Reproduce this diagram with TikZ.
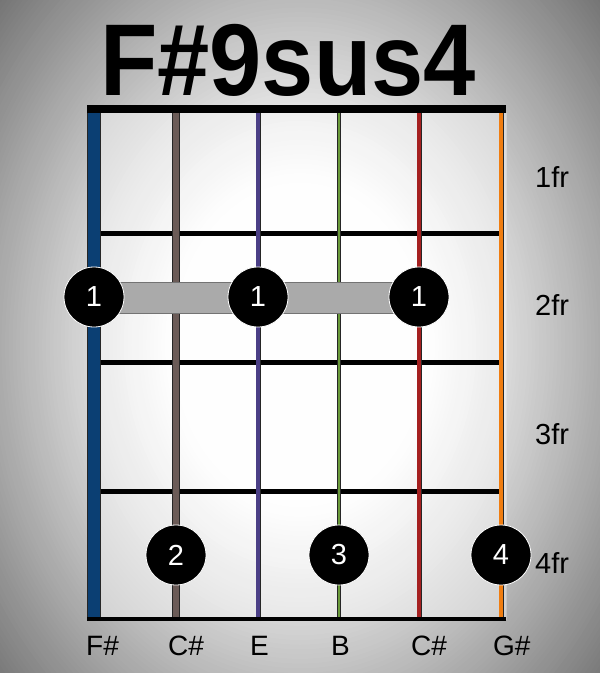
\documentclass[tikz,border=0pt]{standalone}
\usepackage{fontspec}
\setmainfont{Liberation Sans}
\definecolor{sBlue}{HTML}{0B3F73}
\definecolor{sBrown}{HTML}{6B5B57}
\definecolor{sPurple}{HTML}{4B3F86}
\definecolor{sGreen}{HTML}{6A9A3A}
\definecolor{sRed}{HTML}{A52020}
\definecolor{sOrange}{HTML}{F07D10}
\definecolor{barreGray}{HTML}{AAAAAA}
\begin{document}
\begin{tikzpicture}[x=1pt,y=-1pt,
  fretline/.style={line width=5pt, black},
  finger/.style={circle, fill=black, draw=white, line width=0.8pt, minimum size=60pt, inner sep=0pt, text=white, font=\fontsize{29}{29}\selectfont},
  frlabel/.style={anchor=base west, inner sep=0pt, font=\fontsize{29}{29}\selectfont},
  notelabel/.style={anchor=base west, inner sep=0pt, font=\fontsize{28}{28}\selectfont},
  titlestyle/.style={anchor=base, inner sep=0pt, font=\fontsize{102}{102}\selectfont\bfseries, xscale=0.92}]
\useasboundingbox (0,0) rectangle (600,673);
% vignette background
\begin{scope}
  \clip (0,0) rectangle (600,673);
  \fill[black!55] (0,0) rectangle (600,673);
  \foreach \i in {0,...,90}{
    \pgfmathsetmacro\t{1.05-\i*(0.76/90)}
    \pgfmathsetmacro\g{max(0.45,1-0.88*(\t-0.28)^1.1)}
    \pgfmathsetmacro\rx{440*\t}
    \pgfmathsetmacro\ry{560*\t}
    \definecolor{vtmp}{gray}{\g}
    \fill[vtmp] (300,345) ellipse [x radius=\rx pt, y radius=\ry pt];
  }
\end{scope}
% fretboard
\begin{scope}
  \clip (87,113) rectangle (506,619);
  \fill[black!20] (87,113) rectangle (506,619);
  \foreach \i in {0,...,60}{
    \pgfmathsetmacro\t{0.8-\i*(0.51/60)}
    \pgfmathsetmacro\g{1-0.5*(\t-0.28)^1.1}
    \pgfmathsetmacro\rx{440*\t}
    \pgfmathsetmacro\ry{560*\t}
    \definecolor{vtmp}{gray}{\g}
    \fill[vtmp] (300,345) ellipse [x radius=\rx pt, y radius=\ry pt];
  }
\end{scope}
% title
\node[titlestyle] (title) at (288,95) {F\#9sus4};
% frets
\foreach \y [count=\i] in {233.5,362,491}{
  \coordinate (fl\i) at (101,\y);
  \coordinate (fr\i) at (500,\y);
  \draw[fretline] (fl\i) -- (fr\i);
}
% strings
\foreach \x/\c/\w [count=\i] in {94/sBlue/14,176/sBrown/8,258/sPurple/5,339/sGreen/4.5,419/sRed/5,501/sOrange/5}{
  \coordinate (st\i) at (\x,113);
  \coordinate (sb\i) at (\x,617);
  \draw[line width=\w pt, black!85] (st\i) -- (sb\i);
  \draw[line width=\w pt-1.6pt, \c] (st\i) -- (sb\i);
}
% nut and bottom line
\coordinate (nutL) at (87,109);
\coordinate (nutR) at (506,109);
\draw[line width=8pt, black] (nutL) -- (nutR);
\coordinate (botL) at (87,619);
\coordinate (botR) at (506,619);
\draw[line width=4pt, black] (botL) -- (botR);
% barre
\draw[fill=barreGray, draw=black!55, line width=0.8pt] (94,282) rectangle (419,313);
% fingers
\node[finger] (f1) at (94,297) {1};
\node[finger] (f2) at (258,297) {1};
\node[finger] (f3) at (419,297) {1};
\node[finger] (f4) at (176,555) {2};
\node[finger] (f5) at (339,555) {3};
\node[finger] (f6) at (501,555) {4};
% fret labels
\node[frlabel] (l1) at (535,187) {1fr};
\node[frlabel] (l2) at (535,315) {2fr};
\node[frlabel] (l3) at (535,444) {3fr};
\node[frlabel] (l4) at (535,573) {4fr};
% note labels
\node[notelabel] (n1) at (86,655) {F\#};
\node[notelabel] (n2) at (168,655) {C\#};
\node[notelabel] (n3) at (250,655) {E};
\node[notelabel] (n4) at (331,655) {B};
\node[notelabel] (n5) at (411,655) {C\#};
\node[notelabel] (n6) at (493,655) {G\#};
\end{tikzpicture}
\end{document}
